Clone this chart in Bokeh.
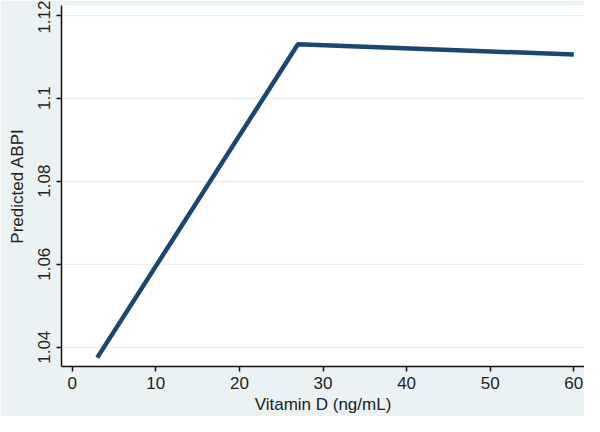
from bokeh.plotting import figure
from bokeh.models import FixedTicker, Range1d
from bokeh.embed import file_html
from bokeh.resources import INLINE

# Data
vitamin_d = [3, 27, 60]
predicted_abpi = [1.0375, 1.1130, 1.1105]

x_ticks = [0, 10, 20, 30, 40, 50, 60]
y_ticks = [1.04, 1.06, 1.08, 1.10, 1.12]
y_tick_labels = ["1.04", "1.06", "1.08", "1.1", "1.12"]

BG = "#eaf2f3"
LINE = "#1a476f"
TXT = "#222222"
FONT = "Liberation Sans"

p = figure(width=584, height=416, output_backend="svg", toolbar_location=None,
           x_range=Range1d(-1.28, 61.28), y_range=Range1d(1.03536, 1.12232),
           min_border_left=61, min_border_right=0, min_border_top=5, min_border_bottom=49)

p.background_fill_color = "white"
p.border_fill_color = BG
p.outline_line_color = None

p.line(vitamin_d, predicted_abpi, line_color=LINE, line_width=4.5)

p.xgrid.visible = False
p.ygrid.ticker = FixedTicker(ticks=y_ticks)
p.ygrid.grid_line_color = BG
p.ygrid.grid_line_width = 1.5

for ax in (p.xaxis[0], p.yaxis[0]):
    ax.axis_line_color = "#111111"
    ax.axis_line_width = 1.5
    ax.major_tick_line_color = "#111111"
    ax.major_tick_line_width = 1.5
    ax.major_tick_out = 5
    ax.major_tick_in = 0
    ax.minor_tick_line_color = None
    ax.major_label_text_font = FONT
    ax.major_label_text_font_size = "17px"
    ax.major_label_text_color = TXT
    ax.axis_label_text_font = FONT
    ax.axis_label_text_font_size = "17px"
    ax.axis_label_text_font_style = "normal"
    ax.axis_label_text_color = TXT

p.xaxis.ticker = FixedTicker(ticks=x_ticks)
p.xaxis.axis_label = "Vitamin D (ng/mL)"
p.xaxis.major_label_standoff = 5
p.xaxis.axis_label_standoff = 3

p.yaxis.ticker = FixedTicker(ticks=y_ticks)
p.yaxis.major_label_overrides = {t: s for t, s in zip(y_ticks, y_tick_labels)}
p.yaxis.major_label_orientation = "vertical"
p.yaxis.axis_label = "Predicted ABPI"
p.yaxis.major_label_standoff = 6
p.yaxis.axis_label_standoff = 9

open("out.html", "w").write(file_html(p, INLINE))
